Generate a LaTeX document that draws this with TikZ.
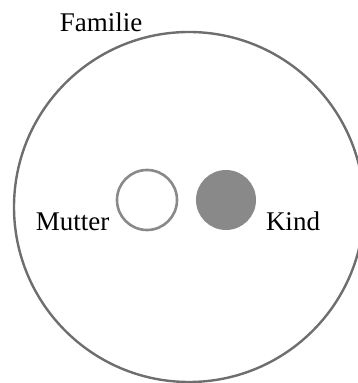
\documentclass[tikz,border=0pt]{standalone}
\usepackage{fontspec}
\setmainfont{Liberation Serif}
\usepackage{tikz}
\usetikzlibrary{positioning}

\definecolor{ringgray}{HTML}{6E6E6E}
\definecolor{dotgray}{HTML}{898989}

\tikzset{
  person/.style={circle, inner sep=0pt, minimum size=60pt, line width=2.6pt},
  tag/.style={font=\fontsize{27}{32}\selectfont, inner sep=0pt, anchor=base}
}

\begin{document}
\begin{tikzpicture}[x=1pt,y=1pt]
        \clip (0,0) rectangle (358,383);
        \node [circle, draw=ringgray, line width=2.4pt, inner sep=0pt, minimum size=350pt] (familie) at (189,176) {};
        \node [person, draw=dotgray, fill=white] (mutter) at (147,183) {};
        \node [person, fill=dotgray] (kind) at (226,183) {};
        \node [tag] (familielabel) at (101,351) {Familie};
        \node [tag] (mutterlabel) at (72.5,152) {Mutter};
        \node [tag] (kindlabel) at (293,152) {Kind};
  \end{tikzpicture}
\end{document}
